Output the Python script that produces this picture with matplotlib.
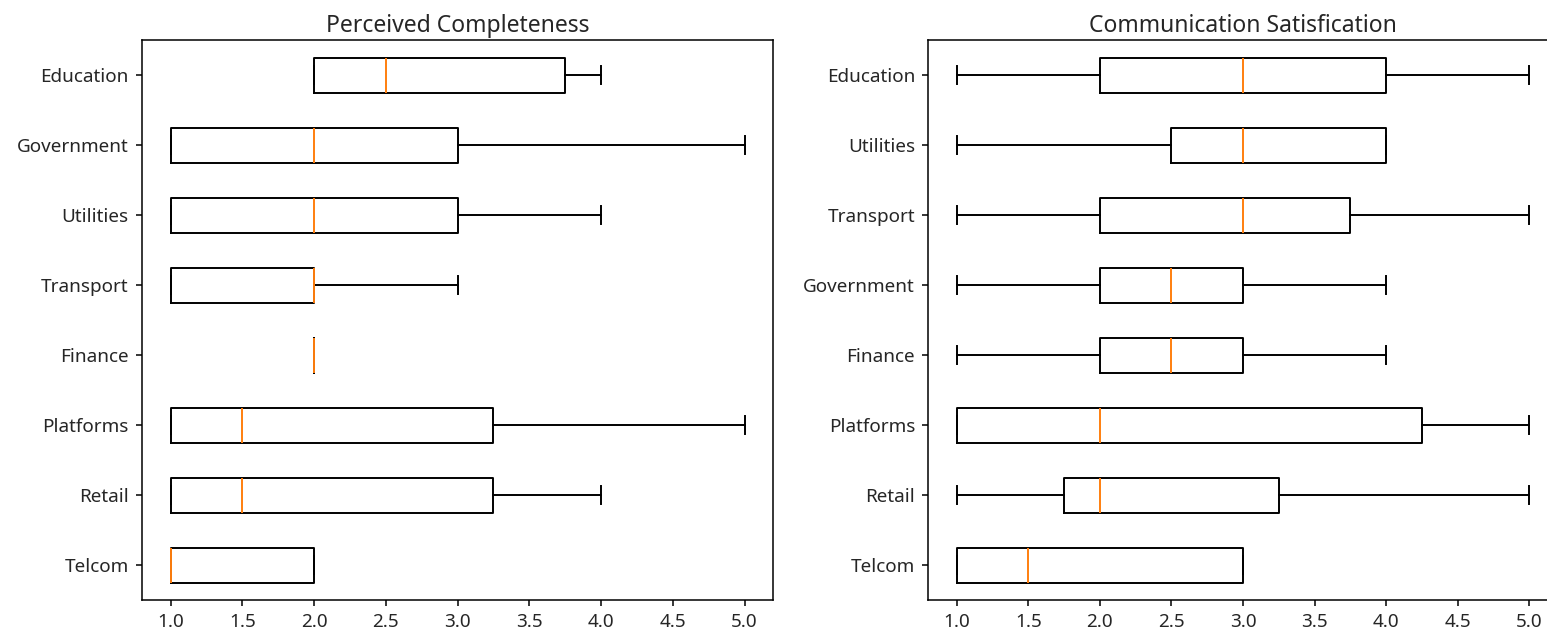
import matplotlib.pyplot as plt

# left panel: Perceived Completeness (bottom to top)
pc_labels = ["Telcom", "Retail", "Platforms", "Finance", "Transport",
             "Utilities", "Government", "Education"]
pc_whislo = [1.0, 1.0, 1.0, 2.0, 1.0, 1.0, 1.0, 2.0]
pc_q1 = [1.0, 1.0, 1.0, 2.0, 1.0, 1.0, 1.0, 2.0]
pc_med = [1.0, 1.5, 1.5, 2.0, 2.0, 2.0, 2.0, 2.5]
pc_q3 = [2.0, 3.25, 3.25, 2.0, 2.0, 3.0, 3.0, 3.75]
pc_whishi = [2.0, 4.0, 5.0, 2.0, 3.0, 4.0, 5.0, 4.0]

# right panel: Communication Satisfication (bottom to top)
cs_labels = ["Telcom", "Retail", "Platforms", "Finance", "Government",
             "Transport", "Utilities", "Education"]
cs_whislo = [1.0, 1.0, 1.0, 1.0, 1.0, 1.0, 1.0, 1.0]
cs_q1 = [1.0, 1.75, 1.0, 2.0, 2.0, 2.0, 2.5, 2.0]
cs_med = [1.5, 2.0, 2.0, 2.5, 2.5, 3.0, 3.0, 3.0]
cs_q3 = [3.0, 3.25, 4.25, 3.0, 3.0, 3.75, 4.0, 4.0]
cs_whishi = [3.0, 5.0, 5.0, 4.0, 4.0, 5.0, 4.0, 5.0]


def make_stats(labels, lo, q1, med, q3, hi):
    return [dict(label=l, whislo=a, q1=b, med=c, q3=d, whishi=e, fliers=[])
            for l, a, b, c, d, e in zip(labels, lo, q1, med, q3, hi)]


plt.rcParams['font.family'] = ['Noto Sans', 'DejaVu Sans']
plt.rcParams['font.size'] = 13.6
plt.rcParams['text.color'] = '#262626'
plt.rcParams['xtick.labelcolor'] = '#262626'
plt.rcParams['ytick.labelcolor'] = '#262626'

fig = plt.figure(figsize=(15.47, 6.32), dpi=100)
ax1 = fig.add_axes([0.0918, 0.0506, 0.408, 0.886])
ax2 = fig.add_axes([0.600, 0.0506, 0.407, 0.886])

box_kw = dict(vert=False, widths=0.5,
              boxprops=dict(linewidth=1.4),
              whiskerprops=dict(linewidth=1.4),
              capprops=dict(linewidth=1.4),
              medianprops=dict(color='#ff7f0e', linewidth=1.4))

ax1.bxp(make_stats(pc_labels, pc_whislo, pc_q1, pc_med, pc_q3, pc_whishi), **box_kw)
ax1.set_title("Perceived Completeness", fontsize=16.5, pad=6)

ax2.bxp(make_stats(cs_labels, cs_whislo, cs_q1, cs_med, cs_q3, cs_whishi), **box_kw)
ax2.set_title("Communication Satisfication", fontsize=16.5, pad=6)

for ax in (ax1, ax2):
    ax.set_xlim(0.8, 5.2)
    ax.set_xticks([1.0, 1.5, 2.0, 2.5, 3.0, 3.5, 4.0, 4.5, 5.0])
    ax.set_xticklabels(["1.0", "1.5", "2.0", "2.5", "3.0", "3.5", "4.0", "4.5", "5.0"])
    ax.tick_params(labelsize=13.6, length=4.5, width=1.1, pad=5)
    for s in ax.spines.values():
        s.set_linewidth(1.1)

fig.savefig("out.png", dpi=100)
